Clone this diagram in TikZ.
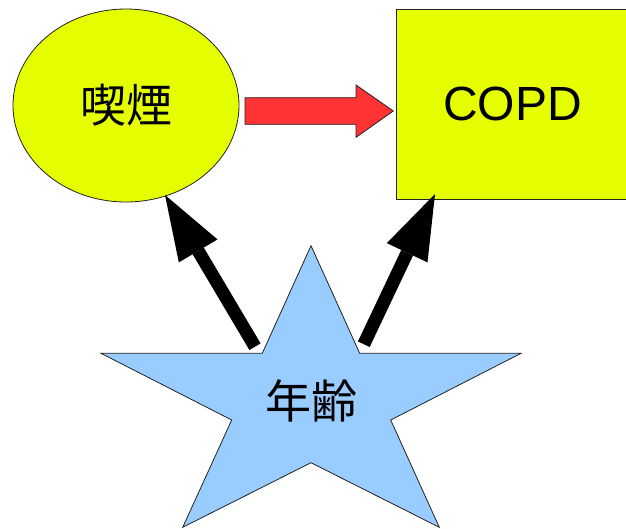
\documentclass[tikz,border=0pt]{standalone}
\usepackage{fontspec}
\setmainfont{Liberation Sans}
\newfontfamily\cjk{Noto Sans CJK JP}
\usetikzlibrary{shapes.geometric,arrows.meta}
\definecolor{yel}{HTML}{E6FF00}
\definecolor{redA}{HTML}{FF3333}
\definecolor{blueS}{HTML}{99CCFF}
\definecolor{edge}{HTML}{222222}
\tikzset{
  shapeedge/.style={draw=edge, line width=0.8pt},
  bigarrow/.style={line width=13pt, draw=black, -{Triangle[length=65pt,width=45pt,line width=0pt]}},
  redarrow/.style={shapeedge, fill=redA, line join=miter},
  cjktext/.style={font=\cjk\fontsize{46}{50}\selectfont, inner sep=0pt},
}
\begin{document}
\begin{tikzpicture}[x=1pt,y=-1pt]
\useasboundingbox (0,0) rectangle (626,528);
\clip (0,0) rectangle (626,528);
% smoking ellipse
\node[ellipse, shapeedge, fill=yel, minimum width=226pt, minimum height=193pt, inner sep=0pt,
      cjktext] (smoke) at (126,105.5) {喫煙};
% COPD box
\node[rectangle, shapeedge, fill=yel, minimum width=233pt, minimum height=190.5pt, inner sep=0pt,
      font=\fontsize{48}{52}\selectfont] (copd) at (512.5,104.25) {COPD};
% red arrow
\coordinate (rs) at (245,111);
\coordinate (rt) at (393.3,111);
\draw[redarrow] (rs) ++(0,-13.3) -- ++(111,0) -- ++(0,-12.7) -- (rt)
   -- ++(-37.3,26.3) -- ++(0,-13) -- ++(-111,0) -- cycle;
% star
\draw[shapeedge, fill=blueS, line join=miter]
  (311,245.7) -- (262.3,353.3) -- (101,353.3) -- (231.7,420) -- (182.7,527.3)
  -- (311,462.7) -- (439.3,527.3) -- (390.7,420) -- (521,353.3) -- (359.7,353.3) -- cycle;
\node[cjktext] (age) at (311,401) {年齢};
% black arrows
\coordinate (l0) at (255,346.7);
\coordinate (l1) at (165,195);
\coordinate (r0) at (363.8,344.2);
\coordinate (r1) at (435,194);
\draw[bigarrow] (l0) -- (l1);
\draw[bigarrow] (r0) -- (r1);
\end{tikzpicture}
\end{document}
